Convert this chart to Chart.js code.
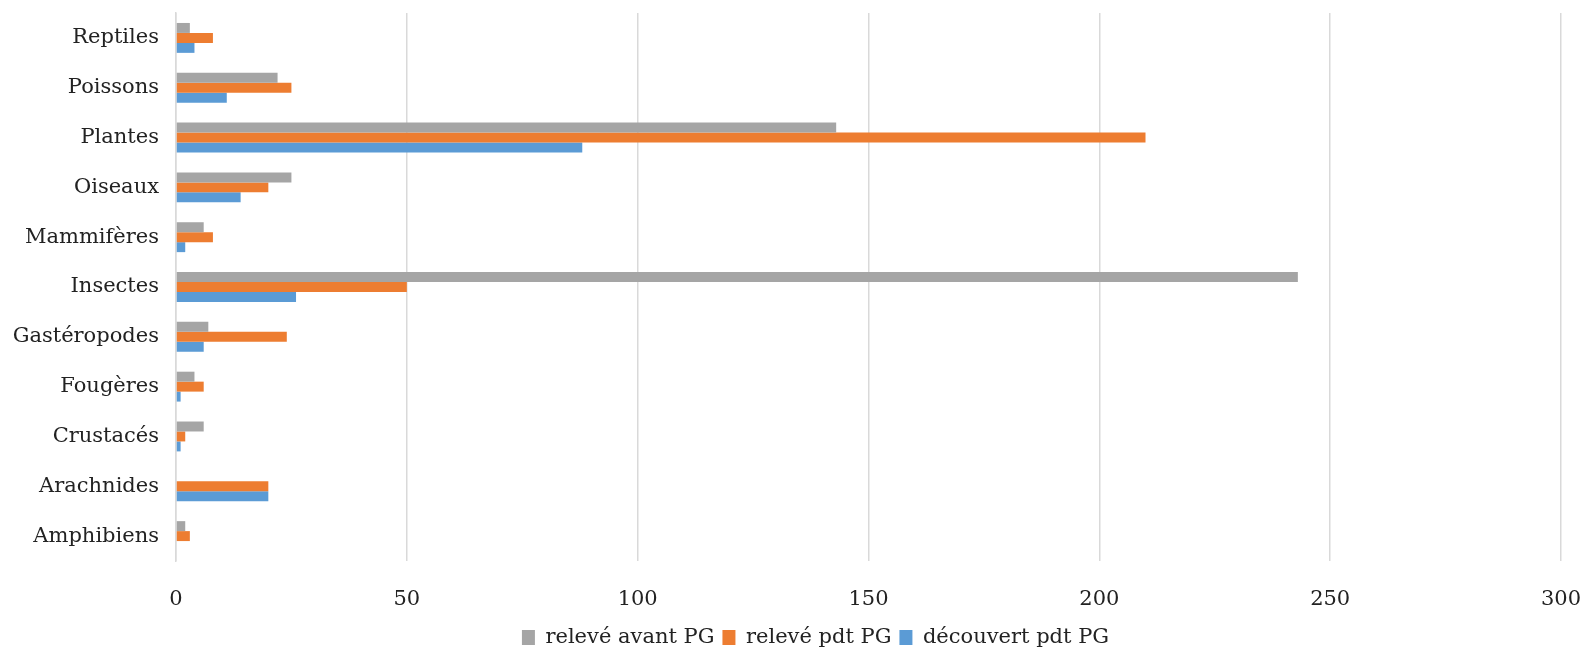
<!DOCTYPE html>
<html>
<head>
<meta charset="utf-8">
<script src="https://cdn.jsdelivr.net/npm/chart.js@4.4.1/dist/chart.umd.min.js"></script>
<style>
  html, body { margin: 0; padding: 0; background: #fff; }
  #wrap { width: 1585px; height: 652px; }
</style>
</head>
<body>
<div id="wrap"><canvas id="chart"></canvas></div>
<script>
const categories = ['Reptiles', 'Poissons', 'Plantes', 'Oiseaux', 'Mammifères', 'Insectes',
    'Gastéropodes', 'Fougères', 'Crustacés', 'Arachnides', 'Amphibiens'];
const releveAvant = [3, 22, 143, 25, 6, 243, 7, 4, 6, 0, 2];
const relevePdt = [8, 25, 210, 20, 8, 50, 24, 6, 2, 20, 3];
const decouvertPdt = [4, 11, 88, 14, 2, 26, 6, 1, 1, 20, 0];
const seriesNames = ['relevé avant PG', 'relevé pdt PG', 'découvert pdt PG'];
const xTicks = [0, 50, 100, 150, 200, 250, 300];

const FONT = { family: '"DejaVu Serif", serif', size: 21 };

// legend sits a little right of centre in the original
const shiftLegend = {
    id: 'shiftLegend',
    afterLayout(chart) {
        chart.legend.left += 35;
        chart.legend.right += 35;
    }
};

const ctx = document.getElementById('chart');
new Chart(ctx, {
    type: 'bar',
    data: {
        labels: categories,
        datasets: [
            { label: seriesNames[0], data: releveAvant, backgroundColor: '#A5A5A5' },
            { label: seriesNames[1], data: relevePdt, backgroundColor: '#ED7D31' },
            { label: seriesNames[2], data: decouvertPdt, backgroundColor: '#5B9BD5' }
        ]
    },
    plugins: [shiftLegend],
    options: {
        indexAxis: 'y',
        responsive: true,
        maintainAspectRatio: false,
        animation: false,
        categoryPercentage: 0.6,
        barPercentage: 1.0,
        layout: { padding: { top: 13, right: 24, bottom: -6, left: 0 } },
        scales: {
            x: {
                min: xTicks[0],
                max: xTicks[xTicks.length - 1],
                afterBuildTicks: function(scale) {
                    scale.ticks = xTicks.map(v => ({ value: v }));
                },
                afterFit: function(scale) {
                    scale.height = 58;
                    scale.paddingLeft = 0;
                    scale.paddingRight = 0;
                },
                grid: { color: '#d9d9d9', lineWidth: 1.5, drawTicks: false },
                border: { display: false },
                ticks: { color: '#222', font: FONT, padding: 26, maxRotation: 0 }
            },
            y: {
                afterFit: function(scale) {
                    scale.width = 176;
                    scale.paddingTop = 0;
                    scale.paddingBottom = 0;
                },
                grid: { display: false, drawTicks: false },
                border: { color: '#d9d9d9', width: 1.5 },
                ticks: { color: '#222', font: FONT, padding: 17 }
            }
        },
        plugins: {
            legend: {
                position: 'bottom',
                labels: {
                    color: '#222',
                    font: FONT,
                    boxWidth: 13,
                    boxHeight: 15,
                    padding: 8
                }
            },
            tooltip: { enabled: false }
        }
    }
});
</script>
</body>
</html>
